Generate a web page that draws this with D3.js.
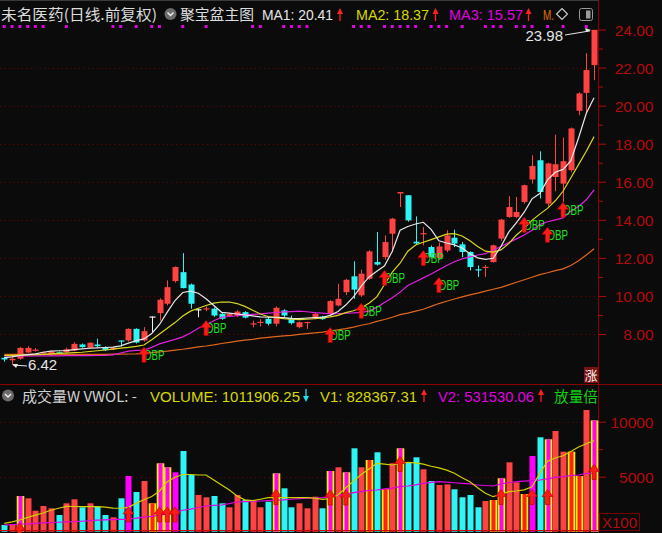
<!DOCTYPE html>
<html><head><meta charset="utf-8">
<script src="https://cdn.jsdelivr.net/npm/d3@7"></script>
<style>html,body{margin:0;padding:0;background:#0b0b0b;overflow:hidden}</style>
</head><body><svg id="c" width="662" height="533"></svg>
<script>
// ---------------- DATA ----------------
const openP  = [6.75,6.62,6.70,7.03,7.15,7.00,6.88,7.04,7.04,7.13,7.45,7.27,7.45,7.31,7.20,7.66,7.66,8.27,7.66,8.92,9.10,9.59,10.78,11.25,10.60,9.30,9.30,9.33,9.06,8.95,8.97,9.15,8.52,8.60,8.80,8.54,9.24,8.80,8.36,8.60,8.80,8.92,9.06,9.50,10.20,11.03,10.03,10.90,11.78,12.04,13.27,15.38,15.29,12.85,13.24,12.57,12.00,12.39,13.06,12.71,12.31,11.40,11.48,11.78,13.01,14.15,14.15,14.94,16.12,17.13,14.85,16.25,15.90,16.61,19.73,20.67,22.13];
const highP  = [6.80,6.78,7.32,7.36,7.26,7.08,7.12,7.08,7.28,7.57,7.50,7.56,7.75,7.35,7.32,7.66,8.30,8.30,8.36,8.92,9.88,10.82,11.55,12.25,10.65,9.33,9.45,9.40,9.10,9.10,9.25,9.20,8.70,8.78,8.90,9.45,9.30,8.97,8.65,8.65,9.15,8.95,9.78,10.64,10.90,11.82,11.38,12.40,13.36,13.18,14.10,15.46,15.30,14.18,13.62,12.65,12.80,13.45,13.48,12.83,12.35,11.60,11.62,12.70,14.05,15.24,15.20,15.85,17.39,17.60,17.00,18.48,18.32,18.85,20.70,22.75,23.98];
const lowP   = [6.55,6.42,6.65,7.00,7.08,6.96,6.85,6.90,7.00,7.10,7.28,7.25,7.30,7.10,7.15,7.34,7.60,7.50,7.60,8.10,8.70,9.50,10.70,10.40,9.33,8.88,9.20,8.90,8.75,8.90,8.90,8.82,8.35,8.40,8.45,8.40,8.90,8.50,8.30,8.27,8.78,8.75,9.00,9.45,10.05,9.85,9.95,10.85,11.60,11.90,12.30,14.67,13.90,12.70,12.66,12.00,11.90,12.30,12.57,12.04,11.34,11.00,11.00,11.75,12.89,14.10,14.10,14.85,15.90,15.12,14.70,15.50,14.94,16.50,19.50,19.59,21.34];
const closeP = [6.66,6.70,7.27,7.27,7.18,7.03,7.08,6.92,7.20,7.48,7.31,7.54,7.36,7.15,7.28,7.60,8.27,7.55,8.15,8.92,9.80,10.46,11.52,10.41,9.59,9.30,9.35,8.97,8.80,9.05,9.18,8.86,8.56,8.64,8.54,9.38,8.97,8.57,8.62,8.63,9.06,8.78,9.73,9.85,10.85,10.33,11.17,12.34,11.65,12.83,14.06,15.46,13.97,12.76,13.30,12.04,12.60,13.18,12.75,12.31,11.52,11.36,11.53,12.66,14.01,14.67,14.41,15.82,16.83,15.46,16.96,16.92,17.08,18.80,20.64,21.87,23.98];
const ma1 = [6.76,6.80,6.87,6.92,6.96,7.04,7.10,7.12,7.13,7.18,7.22,7.25,7.27,7.29,7.31,7.38,7.52,7.65,7.74,8.02,8.50,9.15,9.76,10.18,10.25,10.14,9.85,9.50,9.14,9.10,9.05,9.00,8.95,8.90,8.88,8.88,8.86,8.82,8.81,8.84,8.86,8.88,8.98,9.18,9.52,9.95,10.52,11.00,11.30,11.58,12.35,13.45,13.65,13.78,13.87,13.50,12.90,12.78,12.68,12.52,12.22,12.00,11.92,11.98,12.60,13.35,13.85,14.40,15.10,15.38,16.10,16.50,16.65,17.10,18.30,19.60,20.41];
const ma2 = [6.87,6.88,6.89,6.90,6.91,6.93,6.96,6.98,7.00,7.02,7.04,7.08,7.12,7.16,7.21,7.26,7.30,7.35,7.42,7.70,8.00,8.30,8.60,8.95,9.20,9.35,9.50,9.62,9.68,9.68,9.60,9.45,9.25,9.05,8.92,8.86,8.81,8.78,8.76,8.78,8.80,8.84,8.90,8.98,9.12,9.22,9.38,9.62,9.95,10.60,11.25,11.72,12.35,12.68,12.82,12.96,13.10,13.25,13.27,13.15,12.90,12.60,12.35,12.30,12.42,12.75,13.20,13.55,13.97,14.30,14.60,15.00,15.50,16.20,16.90,17.60,18.37];
const ma3 = [6.85,6.85,6.85,6.85,6.85,6.85,6.85,6.85,6.86,6.86,6.86,6.86,6.87,6.87,6.90,7.00,7.10,7.14,7.15,7.30,7.48,7.60,7.72,7.85,8.05,8.30,8.50,8.70,8.88,8.92,8.96,9.00,9.03,9.06,9.10,9.13,9.16,9.18,9.20,9.17,9.12,9.10,9.06,9.07,9.09,9.11,9.14,9.20,9.40,9.65,9.90,10.20,10.55,10.75,10.95,11.15,11.38,11.60,11.80,11.95,12.05,12.15,12.22,12.40,12.60,12.80,13.00,13.20,13.45,13.75,13.90,14.00,14.10,14.45,14.70,15.05,15.57];
const ma4 = [6.93,6.93,6.93,6.93,6.93,6.93,6.93,6.93,6.93,6.93,6.93,6.93,6.93,6.93,6.94,6.94,6.95,6.96,6.98,7.02,7.06,7.10,7.15,7.20,7.26,7.32,7.37,7.43,7.50,7.56,7.63,7.68,7.72,7.78,7.82,7.86,7.90,7.93,7.98,8.02,8.06,8.10,8.16,8.22,8.28,8.36,8.46,8.54,8.66,8.76,8.88,9.02,9.10,9.20,9.30,9.45,9.60,9.72,9.84,9.95,10.06,10.15,10.25,10.35,10.45,10.58,10.72,10.85,10.98,11.12,11.22,11.33,11.42,11.60,11.85,12.15,12.48];
const volume = [610,670,3245,3036,1910,2336,2127,1518,2580,2945,2218,2580,2272,1518,1309,3036,5064,3609,4609,2580,6218,5855,5400,7336,5155,3336,3127,3245,2580,2218,3336,2882,2790,2218,2727,5309,3945,2218,2580,2127,3182,2127,5518,5855,5400,7582,5855,6518,7218,3855,6218,7582,6309,6764,5673,4609,4245,4300,3855,3127,3336,2218,2790,2880,4855,6309,4490,3427,6882,8582,8400,9155,7273,7273,5064,11064,10119];
const vma1 = [760,900,1064,1300,1500,1700,1950,2130,2300,2290,2272,2272,2272,2230,2150,2130,2218,2600,2900,3200,3700,4545,4945,5200,5200,5155,5155,4700,4245,3790,3250,2900,2818,2950,3090,3090,3090,3090,3090,3090,3050,2945,3000,3336,4000,4600,5200,5700,6218,6150,6064,6200,6309,6250,6150,5950,5800,5600,5309,4900,4545,4000,3490,3182,3400,3636,3700,3800,4090,5300,6400,6700,6900,7300,7700,8000,8284];
const vma2 = [610,650,700,720,760,800,830,860,890,910,950,1000,1050,1080,1100,1120,1150,1230,1330,1400,1500,1620,1750,1950,2050,2200,2336,2400,2427,2550,2700,2730,2760,2790,2830,2870,2900,2950,3000,3040,3070,3090,3150,3300,3400,3550,3650,3750,3790,3900,3960,4100,4155,4250,4400,4480,4545,4500,4450,4400,4350,4245,4200,4155,4350,4450,4545,4600,4650,4700,4800,4945,5000,5100,5155,5300,5315];
// volume bar highlight: 0 plain, 1 yellow + magenta core, 2 yellow + red core, 3 magenta
const volStyle = [0,0,1,0,0,0,0,0,0,0,0,0,0,0,0,0,3,0,0,2,1,1,3,0,0,0,0,0,0,0,0,0,0,0,0,1,0,0,0,0,0,0,1,0,1,0,0,2,0,2,0,1,0,0,0,0,0,0,0,0,0,0,0,2,1,0,0,2,3,0,1,0,0,2,2,0,1];
const bpIdx   = [18,26,42,46,49,54,56,67,70,72];
const bpPrice = [7.31,8.71,8.34,9.61,11.34,12.39,10.97,14.13,13.61,14.92];
const bpLabel = 'DBP';
const volArrowIdx = [2,16,20,21,22,35,42,44,51,64,68,70,76];
const volArrowVal = [150,1610,1610,1610,1610,3200,3150,3150,6200,3200,3200,3200,5470];
const dotIdx = [0,1,2,3,4,5,8,14,15,17,19,20,23,26,32,33,36,37,38,39,45,46,47,49,50,51,52,53,55,56,57,59,62,63,64,66,67,68,70,72,75];
const priceTicks = [8,10,12,14,16,18,20,22,24];
const priceMinor = [9,11,13,15,17,19,21,23];
const volTicks = [5000,10000];
const volMinor = [7500];

// ---------------- SETUP ----------------
const N = closeP.length;
const svg = d3.select('#c');
const LAT = "'Liberation Sans', Arial, sans-serif";
const CJK = "'Noto Sans CJK SC', 'Noto Sans', sans-serif";
const AX = '#b40a0a', GRID = '#7a0000';
const RED = '#ff4242', CYAN = '#2ef5f5';

const x = d3.scaleBand().domain(d3.range(N)).range([0.42, 597.94]).paddingInner(0.22).paddingOuter(0.11);
const cx = i => x(i) + x.bandwidth()/2;
const y = d3.scaleLinear().domain([8, 24]).range([334, 29.5]);
const yv = d3.scaleLinear().domain([0, 10000]).range([531.7, 421.7]);

svg.append('rect').attr('width',662).attr('height',533).attr('fill','#0b0b0b');

// frame lines
svg.append('line').attr('x1',0).attr('x2',598).attr('y1',0.5).attr('y2',0.5).attr('stroke','#3a3a3a');
svg.append('line').attr('x1',598.5).attr('x2',598.5).attr('y1',0).attr('y2',533).attr('stroke','#8a0000');
svg.append('line').attr('x1',0).attr('x2',662).attr('y1',384.5).attr('y2',384.5).attr('stroke','#8a0000');

// grid
const g = svg.append('g');
g.selectAll('line.pg').data(priceTicks.filter(d=>d<24)).join('line')
  .attr('x1',0).attr('x2',598).attr('y1',d=>Math.round(y(d))+0.5).attr('y2',d=>Math.round(y(d))+0.5)
  .attr('stroke',GRID).attr('stroke-dasharray','1,3.4');
g.selectAll('line.vg').data(volTicks).join('line')
  .attr('x1',0).attr('x2',598).attr('y1',d=>Math.round(yv(d))+0.5).attr('y2',d=>Math.round(yv(d))+0.5)
  .attr('stroke',GRID).attr('stroke-dasharray','1,3.4');

// axes
function styleAxis(sel){
  sel.select('.domain').remove();
  sel.selectAll('line').attr('stroke',AX);
  sel.selectAll('text').attr('fill',AX).attr('font-family',LAT).attr('font-size',15.5)
     .attr('text-anchor','end').attr('x',54.5).attr('dy','0.36em');
}
svg.append('g').attr('transform','translate(599,0)')
  .call(d3.axisRight(y).tickValues(priceTicks).tickFormat(d=>d.toFixed(2)).tickSize(7)).call(styleAxis);
svg.append('g').attr('transform','translate(599,0)')
  .call(d3.axisRight(y).tickValues(priceMinor).tickFormat('').tickSize(4)).call(styleAxis);
svg.append('g').attr('transform','translate(599,0)')
  .call(d3.axisRight(yv).tickValues(volTicks).tickFormat(d=>String(d)).tickSize(7)).call(styleAxis);
svg.append('g').attr('transform','translate(599,0)')
  .call(d3.axisRight(yv).tickValues(volMinor).tickFormat('').tickSize(4)).call(styleAxis);

// X100 box
svg.append('rect').attr('x',599.5).attr('y',513.5).attr('width',40).attr('height',17).attr('fill','none').attr('stroke','#7a0000');
svg.append('text').attr('x',602).attr('y',528).text('X100').attr('fill',AX).attr('font-family',LAT).attr('font-size',15).attr('textLength',35);

// ---------------- MAIN PANEL ----------------
const main = svg.append('g');
const cg = main.selectAll('g.c').data(d3.range(N)).join('g');
const colorOf = i => closeP[i] > openP[i] ? RED : (closeP[i] < openP[i] ? CYAN : '#f0f0f0');
cg.append('line').attr('x1',i=>Math.round(cx(i))+0.5).attr('x2',i=>Math.round(cx(i))+0.5)
  .attr('y1',i=>y(highP[i])).attr('y2',i=>y(lowP[i])).attr('stroke',colorOf).attr('stroke-width',1);
cg.append('rect').attr('x',i=>Math.round(cx(i))+0.5-3).attr('width',6)
  .attr('y',i=>y(Math.max(openP[i],closeP[i])))
  .attr('height',i=>Math.max(1.2, Math.abs(y(openP[i])-y(closeP[i]))))
  .attr('fill',colorOf);

// MA lines
const line = d3.line().x((d,i)=>cx(i)).y(d=>y(d));
[[ma4,'#e0661a'],[ma3,'#e020e0'],[ma2,'#d8d820'],[ma1,'#e8e8e8']].forEach(([arr,col])=>{
  main.append('path').attr('d',line(arr)).attr('fill','none').attr('stroke',col).attr('stroke-width',1.2);
});

// BP signals
function arrowPath(c, t){
  return `M${c},${t} L${c+5.5},${t+7} L${c+2},${t+7} L${c+2},${t+15} L${c-2},${t+15} L${c-2},${t+7} L${c-5.5},${t+7} Z`;
}
bpIdx.forEach((bi,k)=>{
  const c = cx(bi), t = y(bpPrice[k]);
  main.append('text').attr('x',c+0.5).attr('y',t+12.5).text(bpLabel).attr('fill','#1ee01e')
    .attr('font-family',LAT).attr('font-size',14).attr('textLength',20).attr('lengthAdjust','spacingAndGlyphs');
  main.append('path').attr('d',arrowPath(c,t)).attr('fill','#ff1a1a').attr('stroke','#c00000').attr('stroke-width',0.6);
});

// high / low annotations
const iHi = d3.maxIndex(highP), iLo = d3.minIndex(lowP);
main.append('text').attr('x',563).attr('y',41).attr('text-anchor','end').text(highP[iHi].toFixed(2))
  .attr('fill','#e6e6e6').attr('font-family',LAT).attr('font-size',15);
main.append('line').attr('x1',565).attr('y1',35).attr('x2',cx(iHi)-4).attr('y2',y(highP[iHi])+1).attr('stroke','#e6e6e6');
main.append('path').attr('d',`M${cx(iHi)-3},${y(highP[iHi])} l-6,-2 l1,4 z`).attr('fill','#e6e6e6');
main.append('text').attr('x',28).attr('y',370).text(lowP[iLo].toFixed(2))
  .attr('fill','#e6e6e6').attr('font-family',LAT).attr('font-size',15);
main.append('line').attr('x1',27).attr('y1',366).attr('x2',cx(iLo)+1).attr('y2',y(lowP[iLo])+1).attr('stroke','#e6e6e6');
main.append('path').attr('d',`M${cx(iLo)},${y(lowP[iLo])} l6,0 l-2,4 z`).attr('fill','#e6e6e6');

// signal dots along top
main.selectAll('rect.dot').data(dotIdx).join('rect').attr('x',i=>cx(i)-1.5).attr('y',25).attr('width',3).attr('height',3).attr('fill','#e000e0');

// 涨 box
svg.append('rect').attr('x',584).attr('y',367).attr('width',14).attr('height',16).attr('fill','#7a1010');
svg.append('text').attr('x',591).attr('y',380).attr('text-anchor','middle').text('涨').attr('fill','#f4f4f4')
  .attr('font-family',CJK).attr('font-size',13);

// ---------------- HEADER ----------------
function txt(xp, yp, s, col, w, fam, size){
  const t = svg.append('text').attr('x',xp).attr('y',yp).text(s).attr('fill',col)
    .attr('font-family',fam||LAT).attr('font-size',size||15);
  if (w) t.attr('textLength',w).attr('lengthAdjust','spacingAndGlyphs');
  return t;
}
function upArrow(xp, y0, col){
  svg.append('line').attr('x1',xp).attr('x2',xp).attr('y1',y0+13).attr('y2',y0+2).attr('stroke',col).attr('stroke-width',1.3);
  svg.append('path').attr('d',`M${xp},${y0} l-3,6 l6,0 z`).attr('fill',col);
}
function downArrow(xp, y0, col){
  svg.append('line').attr('x1',xp).attr('x2',xp).attr('y1',y0).attr('y2',y0+11).attr('stroke',col).attr('stroke-width',1.3);
  svg.append('path').attr('d',`M${xp},${y0+13} l-3,-6 l6,0 z`).attr('fill',col);
}
function circIcon(xc, yc){
  svg.append('circle').attr('cx',xc).attr('cy',yc).attr('r',6).attr('fill','#6b6b6b');
  svg.append('path').attr('d',`M${xc-3},${yc-1.5} L${xc},${yc+1.5} L${xc+3},${yc-1.5}`).attr('fill','none').attr('stroke','#eee').attr('stroke-width',1.5);
}
txt(1, 20, '未名医药(日线.前复权)', '#dcdcdc', 156, CJK, 15);
circIcon(170.5, 14);
txt(180, 20, '聚宝盆主图', '#dcdcdc', 74, CJK, 15);
txt(262, 20, 'MA1: ' + ma1[N-1].toFixed(2), '#e6e6e6', 71);
upArrow(340, 8, '#ff2020');
txt(356, 20, 'MA2: ' + ma2[N-1].toFixed(2), '#d8d800', 73);
upArrow(435.5, 8, '#ff2020');
txt(449, 20, 'MA3: ' + ma3[N-1].toFixed(2), '#e000e0', 74);
upArrow(528.5, 8, '#ff2020');
txt(543, 20, 'M.', '#e07000', 11);
svg.append('path').attr('d','M562,8.5 L567.5,14 L562,19.5 L556.5,14 Z').attr('fill','none').attr('stroke','#cfcfcf').attr('stroke-width',1.1);
svg.append('rect').attr('x',579.5).attr('y',8.5).attr('width',13).attr('height',12).attr('rx',2).attr('fill','none').attr('stroke','#9a9a9a');
svg.append('rect').attr('x',586).attr('y',10.5).attr('width',4.5).attr('height',8).attr('fill','#9a9a9a');

// volume header
circIcon(8, 395.5);
txt(22, 402, '成交量W VWOL: -', '#d0d0d0', 115, CJK, 15);
txt(150, 402, 'VOLUME: 1011906.25', '#d8d800', 150);
downArrow(306, 389, '#20e0f0');
txt(320, 402, 'V1: 828367.31', '#d8d800', 97);
upArrow(424, 389, '#ff2020');
txt(438, 402, 'V2: 531530.06', '#e000e0', 96);
upArrow(541, 389, '#ff2020');
txt(554, 402, '放量倍', '#10d010', 44, CJK, 15);

// ---------------- VOLUME PANEL ----------------
const vg = svg.append('g');
const vcol = i => closeP[i] >= openP[i] ? RED : CYAN;
d3.range(N).forEach(i=>{
  const c = Math.round(cx(i))+0.5, top = yv(volume[i]), h = yv(0) - top;
  const s = volStyle[i];
  if (s === 1 || s === 2){
    vg.append('rect').attr('x',c-3.8).attr('width',7.6).attr('y',top).attr('height',h).attr('fill','#f0f000');
    vg.append('rect').attr('x',c-2).attr('width',4).attr('y',top).attr('height',h).attr('fill', s===1 ? '#ff00ff' : '#ff2020');
  } else if (s === 3){
    vg.append('rect').attr('x',c-3).attr('width',6).attr('y',top).attr('height',h).attr('fill','#ff00ff');
  } else {
    vg.append('rect').attr('x',c-3).attr('width',6).attr('y',top).attr('height',h).attr('fill',vcol(i));
  }
});
const vline = d3.line().x((d,i)=>cx(i)).y(d=>yv(d));
vg.append('path').attr('d',vline(vma2)).attr('fill','none').attr('stroke','#e000e0').attr('stroke-width',1.2);
vg.append('path').attr('d',vline(vma1)).attr('fill','none').attr('stroke','#d0d000').attr('stroke-width',1.2);
vg.append('line').attr('x1',0).attr('x2',598).attr('y1',530.5).attr('y2',530.5).attr('stroke','#d00000');
volArrowIdx.forEach((bi,k)=>{
  const c = cx(bi), t = yv(volArrowVal[k]) - 7;
  vg.append('path').attr('d',arrowPath(c,t)).attr('fill','#ff1a1a').attr('stroke','#b00000').attr('stroke-width',0.6);
});
</script></body></html>
